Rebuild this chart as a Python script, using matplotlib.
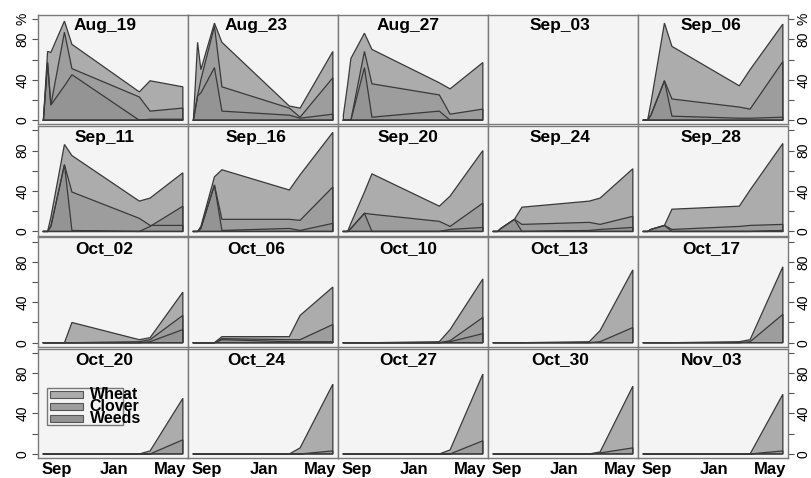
"""Stacked-style cover panels: wheat, clover and weeds by sowing date."""

import matplotlib
matplotlib.use("Agg")
import matplotlib.pyplot as plt
from matplotlib.patches import Rectangle

plt.rcParams["font.family"] = ["Liberation Sans", "DejaVu Sans"]

# sampling dates, days from 1 Sep
X_DAYS = [-29, -20, -13, 16, 32, 176, 199, 269]

PANELS = [
    "Aug_19", "Aug_23", "Aug_27", "Sep_03", "Sep_06",
    "Sep_11", "Sep_16", "Sep_20", "Sep_24", "Sep_28",
    "Oct_02", "Oct_06", "Oct_10", "Oct_13", "Oct_17",
    "Oct_20", "Oct_24", "Oct_27", "Oct_30", "Nov_03",
]

# % cover read per panel, one row per sowing date
WHEAT = [
    [0, 68, 67, 98, 75, 28, 39, 33],
    [0, 77, 50, 96, 77, 14, 12, 68],
    [5, 35, 61, 86, 70, 37, 31, 57],
    [0, 0, 0, 0, 0, 0, 0, 0],
    [0, 0, 17, 96, 73, 34, 50, 95],
    [0, 0, 14, 86, 75, 30, 33, 58],
    [0, 0, 5, 54, 61, 41, 56, 98],
    [0, 0, 8, 39, 57, 25, 35, 80],
    [0, 0, 3, 12, 24, 30, 33, 62],
    [0, 0, 2, 6, 22, 25, 41, 87],
    [0, 0, 0, 0, 20, 3, 5, 50],
    [0, 0, 0, 0, 6, 6, 27, 55],
    [0, 0, 0, 0, 0, 1, 13, 63],
    [0, 0, 0, 0, 0, 1, 12, 72],
    [0, 0, 0, 0, 0, 1, 3, 75],
    [0, 0, 0, 0, 0, 0, 3, 55],
    [0, 0, 0, 0, 0, 0, 6, 69],
    [0, 0, 0, 0, 0, 0, 4, 79],
    [0, 0, 0, 0, 0, 0, 2, 67],
    [0, 0, 0, 0, 0, 0, 0, 59],
]
CLOVER = [
    [0, 57, 15, 87, 51, 23, 9, 12],
    [0, 24, 40, 93, 33, 12, 3, 42],
    [0, 0, 0, 68, 36, 25, 6, 11],
    [0, 0, 0, 0, 0, 0, 0, 0],
    [0, 0, 5, 39, 21, 13, 11, 58],
    [0, 0, 5, 66, 39, 13, 6, 6],
    [0, 0, 3, 46, 12, 12, 11, 44],
    [0, 0, 3, 18, 17, 10, 5, 28],
    [0, 0, 3, 12, 7, 9, 7, 15],
    [0, 0, 2, 6, 2, 5, 6, 7],
    [0, 0, 0, 0, 0, 1, 3, 27],
    [0, 0, 0, 0, 4, 3, 3, 18],
    [0, 0, 0, 0, 0, 0, 2, 25],
    [0, 0, 0, 0, 0, 0, 1, 15],
    [0, 0, 0, 0, 0, 0, 1, 28],
    [0, 0, 0, 0, 0, 0, 0, 14],
    [0, 0, 0, 0, 0, 0, 0, 3],
    [0, 0, 0, 0, 0, 0, 0, 13],
    [0, 0, 0, 0, 0, 0, 1, 6],
    [0, 0, 0, 0, 0, 0, 0, 3],
]
WEEDS = [
    [0, 57, 15, 34, 45, 0, 1, 1],
    [0, 24, 27, 52, 9, 5, 2, 6],
    [0, 0, 0, 52, 3, 9, 0, 0],
    [0, 0, 0, 0, 0, 0, 0, 0],
    [0, 0, 5, 39, 4, 2, 2, 3],
    [0, 0, 5, 66, 1, 0, 5, 25],
    [0, 0, 3, 46, 1, 3, 1, 8],
    [0, 0, 3, 18, 0, 0, 2, 4],
    [0, 0, 3, 12, 0, 1, 2, 4],
    [0, 0, 2, 6, 0, 0, 0, 1],
    [0, 0, 0, 0, 0, 0, 1, 13],
    [0, 0, 0, 0, 3, 1, 1, 1],
    [0, 0, 0, 0, 0, 0, 1, 9],
    [0, 0, 0, 0, 0, 0, 0, 0],
    [0, 0, 0, 0, 0, 0, 0, 0],
    [0, 0, 0, 0, 0, 0, 0, 0],
    [0, 0, 0, 0, 0, 0, 0, 0],
    [0, 0, 0, 0, 0, 0, 0, 0],
    [0, 0, 0, 0, 0, 0, 0, 0],
    [0, 0, 0, 0, 0, 0, 0, 0],
]

SERIES = ["Wheat", "Clover", "Weeds"]
X_TICKS = [0, 122, 242]
X_TICK_LABELS = ["Sep", "Jan", "May"]
Y_TICKS = [0, 20, 40, 60, 80, 100]

_FILLS = {"Wheat": "#acacac", "Clover": "#9d9d9d", "Weeds": "#949494"}
_EDGE = "#3a3a3a"
_PANEL_BG = "#f4f4f4"


def _polygon(values):
    xs = [X_DAYS[0]] + X_DAYS + [X_DAYS[-1], X_DAYS[0]]
    ys = [0] + list(values) + [0, 0]
    return xs, ys


def main():
    fig, axes = plt.subplots(4, 5, figsize=(8.11, 4.78), dpi=100)
    fig.subplots_adjust(left=38 / 811, right=788 / 811, top=1 - 15 / 478,
                        bottom=1 - 458 / 478, wspace=0, hspace=0.018)

    for i, ax in enumerate(axes.flat):
        r, c = divmod(i, 5)
        ax.set_facecolor(_PANEL_BG)
        layers = [("Wheat", WHEAT[i]), ("Clover", CLOVER[i]), ("Weeds", WEEDS[i])]
        layers = [(name, vals) for name, vals in layers if any(vals)]
        for name, vals in layers:
            xs, ys = _polygon(vals)
            ax.fill(xs, ys, facecolor=_FILLS[name], edgecolor="none")
        for name, vals in layers:
            xs, ys = _polygon(vals)
            ax.plot(xs, ys, color=_EDGE, linewidth=0.9, solid_joinstyle="miter")

        ax.set_xlim(-40.5, 280)
        ax.set_ylim(-4, 104)
        ax.set_xticks(X_TICKS)
        ax.set_xticklabels(X_TICK_LABELS, fontweight="bold")
        ax.set_yticks(Y_TICKS)
        top = "%" if r == 0 else ""
        ax.set_yticklabels(["0", "", "40", "", "80", top])

        ax.tick_params(axis="x", length=0, labelsize=12, pad=3,
                       labelbottom=(r == 3))
        ax.tick_params(axis="y", direction="out", length=4, width=0.8,
                       color="#555555", labelsize=10, labelrotation=90, pad=2,
                       left=(c == 0), right=(c == 4),
                       labelleft=(c == 0), labelright=(c == 4))
        for lab in ax.get_yticklabels():
            lab.set_verticalalignment("center")
        for sp in ax.spines.values():
            sp.set_color("#7a7a7a")
            sp.set_linewidth(1.0)

        ax.text(0.445 + 0.011 * c, 0.9, PANELS[i], transform=ax.transAxes,
                ha="center", va="center", fontsize=12.5, fontweight="bold")

    # key drawn inside the Oct_20 panel
    lax = axes[3, 0]
    lax.add_patch(Rectangle((0.06, 0.30), 0.507, 0.345, transform=lax.transAxes,
                            facecolor="none", edgecolor="#777777", linewidth=1.0))
    for k, name in enumerate(SERIES):
        yc = 0.578 - 0.108 * k
        lax.add_patch(Rectangle((0.08, yc - 0.032), 0.22, 0.064,
                                transform=lax.transAxes, facecolor=_FILLS[name],
                                edgecolor="#555555", linewidth=0.8))
        lax.text(0.345, yc, name, transform=lax.transAxes, ha="left",
                 va="center", fontsize=11.5, fontweight="bold")

    fig.savefig("out.png", dpi=100)
    plt.close(fig)


if __name__ == "__main__":
    main()
